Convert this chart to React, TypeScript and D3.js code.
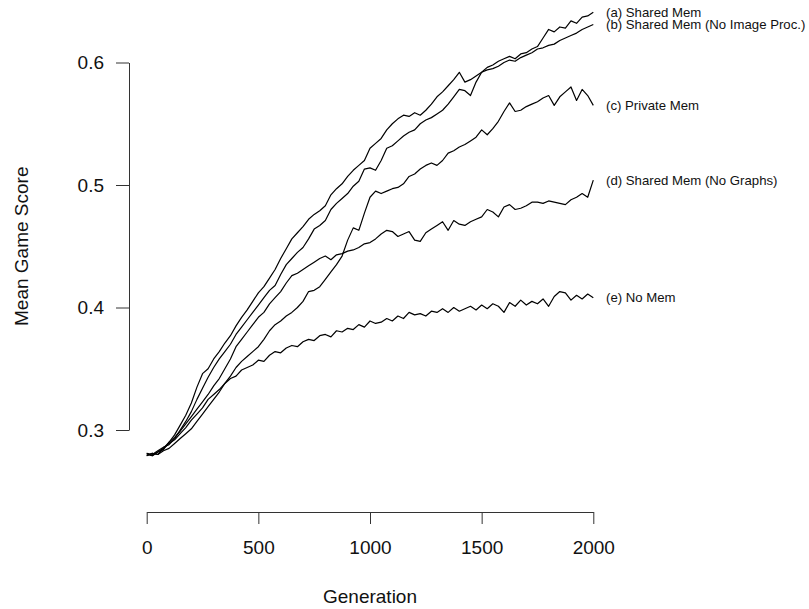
import React, { useEffect, useRef } from 'react';
import * as d3 from 'd3';

// generation sampled every 25 steps
const generations = d3.range(0, 2001, 25);

const sharedMem = [
  0.280, 0.279, 0.282, 0.285, 0.290, 0.296, 0.304, 0.312, 0.322, 0.335,
  0.346, 0.350, 0.358, 0.364, 0.371, 0.377, 0.385, 0.392, 0.398, 0.405,
  0.412, 0.417, 0.424, 0.431, 0.440, 0.448, 0.456, 0.461, 0.466, 0.472,
  0.476, 0.479, 0.483, 0.492, 0.497, 0.501, 0.507, 0.512, 0.516, 0.520,
  0.530, 0.534, 0.538, 0.545, 0.550, 0.554, 0.557, 0.556, 0.559, 0.557,
  0.561, 0.566, 0.572, 0.576, 0.581, 0.586, 0.592, 0.584, 0.586, 0.589,
  0.592, 0.596, 0.598, 0.601, 0.603, 0.605, 0.603, 0.607, 0.608, 0.611,
  0.613, 0.620, 0.627, 0.625, 0.629, 0.628, 0.634, 0.632, 0.637, 0.638,
  0.641,
];

const sharedNoImage = [
  0.281, 0.280, 0.283, 0.286, 0.288, 0.293, 0.300, 0.307, 0.315, 0.325,
  0.334, 0.343, 0.351, 0.358, 0.364, 0.370, 0.378, 0.384, 0.390, 0.396,
  0.402, 0.408, 0.414, 0.418, 0.427, 0.435, 0.440, 0.445, 0.449, 0.456,
  0.464, 0.467, 0.471, 0.480, 0.485, 0.489, 0.493, 0.499, 0.503, 0.513,
  0.514, 0.512, 0.520, 0.530, 0.532, 0.536, 0.540, 0.543, 0.545, 0.550,
  0.553, 0.555, 0.558, 0.561, 0.566, 0.572, 0.578, 0.577, 0.573, 0.584,
  0.592, 0.594, 0.595, 0.597, 0.600, 0.602, 0.601, 0.604, 0.606, 0.608,
  0.611, 0.612, 0.614, 0.615, 0.618, 0.620, 0.622, 0.624, 0.627, 0.629,
  0.631,
];

const privateMem = [
  0.279, 0.281, 0.280, 0.283, 0.285, 0.289, 0.293, 0.297, 0.301, 0.307,
  0.313, 0.319, 0.325, 0.331, 0.338, 0.344, 0.351, 0.356, 0.360, 0.364,
  0.368, 0.374, 0.381, 0.386, 0.389, 0.393, 0.396, 0.400, 0.405, 0.413,
  0.414, 0.417, 0.423, 0.429, 0.435, 0.442, 0.455, 0.465, 0.463, 0.477,
  0.490, 0.495, 0.493, 0.495, 0.497, 0.498, 0.501, 0.507, 0.509, 0.513,
  0.516, 0.518, 0.516, 0.520, 0.526, 0.528, 0.531, 0.533, 0.536, 0.539,
  0.545, 0.541, 0.546, 0.552, 0.560, 0.567, 0.560, 0.561, 0.564, 0.566,
  0.568, 0.571, 0.573, 0.565, 0.572, 0.576, 0.580, 0.569, 0.578, 0.573,
  0.565,
];

const sharedNoGraphs = [
  0.281, 0.279, 0.282, 0.284, 0.290, 0.294, 0.299, 0.305, 0.311, 0.317,
  0.323, 0.329, 0.336, 0.342, 0.350, 0.358, 0.368, 0.374, 0.380, 0.386,
  0.392, 0.396, 0.403, 0.408, 0.413, 0.420, 0.426, 0.428, 0.431, 0.434,
  0.437, 0.440, 0.442, 0.439, 0.443, 0.444, 0.446, 0.447, 0.449, 0.452,
  0.453, 0.456, 0.460, 0.463, 0.462, 0.458, 0.460, 0.462, 0.455, 0.454,
  0.461, 0.464, 0.467, 0.470, 0.463, 0.471, 0.468, 0.467, 0.470, 0.472,
  0.474, 0.480, 0.478, 0.474, 0.482, 0.484, 0.480, 0.481, 0.483, 0.486,
  0.486, 0.485, 0.487, 0.486, 0.485, 0.484, 0.488, 0.490, 0.493, 0.490,
  0.504,
];

const noMem = [
  0.279, 0.281, 0.280, 0.285, 0.289, 0.292, 0.297, 0.302, 0.308, 0.313,
  0.318, 0.325, 0.329, 0.333, 0.338, 0.342, 0.344, 0.349, 0.351, 0.353,
  0.357, 0.356, 0.361, 0.364, 0.363, 0.367, 0.369, 0.368, 0.372, 0.374,
  0.373, 0.377, 0.378, 0.376, 0.381, 0.380, 0.383, 0.382, 0.386, 0.384,
  0.389, 0.387, 0.388, 0.391, 0.389, 0.393, 0.391, 0.396, 0.394, 0.395,
  0.393, 0.397, 0.396, 0.399, 0.396, 0.400, 0.397, 0.399, 0.401, 0.398,
  0.402, 0.399, 0.403, 0.401, 0.396, 0.404, 0.401, 0.406, 0.402, 0.405,
  0.403, 0.407, 0.401, 0.409, 0.413, 0.412, 0.406, 0.410, 0.407, 0.411,
  0.408,
];

const seriesLabels = [
  '(a) Shared Mem',
  '(b) Shared Mem (No Image Proc.)',
  '(c) Private Mem',
  '(d) Shared Mem (No Graphs)',
  '(e) No Mem',
];
const seriesValues = [sharedMem, sharedNoImage, privateMem, sharedNoGraphs, noMem];

const xTicks = [0, 500, 1000, 1500, 2000];
const yTicks = [0.3, 0.4, 0.5, 0.6];

const FONT = '"Liberation Sans", Arial, Helvetica, sans-serif';

const App = () => {
  const svgRef = useRef<SVGSVGElement>(null);

  useEffect(() => {
    if (!svgRef.current) return;
    const width = 809;
    const height = 609;

    const svg = d3.select(svgRef.current);
    svg.selectAll('*').remove();
    svg.attr('width', width).attr('height', height);

    const x = d3.scaleLinear().domain([0, 2000]).range([146.7, 593.3]);
    const y = d3.scaleLinear().domain([0.3, 0.6]).range([430, 62.5]);

    // x axis (R style, detached below the plot)
    const xAxis = svg.append('g')
      .attr('transform', 'translate(0,512)')
      .call(d3.axisBottom(x).tickValues(xTicks).tickFormat(d3.format('d'))
        .tickSize(12).tickSizeOuter(0).tickPadding(17));
    xAxis.select('.domain').attr('stroke', '#333');
    xAxis.selectAll('line').attr('stroke', '#333');
    xAxis.selectAll('text').attr('font-family', FONT).attr('font-size', 19).attr('fill', '#111');

    // y axis
    const yAxis = svg.append('g')
      .attr('transform', 'translate(129,0)')
      .call(d3.axisLeft(y).tickValues(yTicks).tickFormat(d3.format('.1f'))
        .tickSize(13).tickSizeOuter(0).tickPadding(12));
    yAxis.select('.domain').attr('stroke', '#333');
    yAxis.selectAll('line').attr('stroke', '#333');
    yAxis.selectAll('text').attr('font-family', FONT).attr('font-size', 19).attr('fill', '#111');

    const line = d3.line<number>()
      .x((_, i) => x(generations[i]))
      .y(d => y(d));

    seriesValues.forEach((vals, k) => {
      svg.append('path')
        .datum(vals)
        .attr('d', line)
        .attr('fill', 'none')
        .attr('stroke', '#000')
        .attr('stroke-width', 1.2)
        .attr('stroke-linejoin', 'round');

      svg.append('text')
        .attr('x', 606)
        .attr('y', y(vals[vals.length - 1]) + 4.7)
        .attr('font-family', FONT)
        .attr('font-size', 13.2)
        .attr('fill', '#111')
        .text(seriesLabels[k]);
    });

    svg.append('text')
      .attr('x', x(1000))
      .attr('y', 602.5)
      .attr('text-anchor', 'middle')
      .attr('font-family', FONT)
      .attr('font-size', 19)
      .attr('fill', '#111')
      .text('Generation');

    svg.append('text')
      .attr('transform', `translate(28,${(y(0.3) + y(0.6)) / 2}) rotate(-90)`)
      .attr('text-anchor', 'middle')
      .attr('font-family', FONT)
      .attr('font-size', 19)
      .attr('fill', '#111')
      .text('Mean Game Score');
  }, []);

  return (
    <svg
      ref={svgRef}
      style={{ position: 'absolute', left: 0, top: 0, background: '#fff' }}
    />
  );
};

export default App;
